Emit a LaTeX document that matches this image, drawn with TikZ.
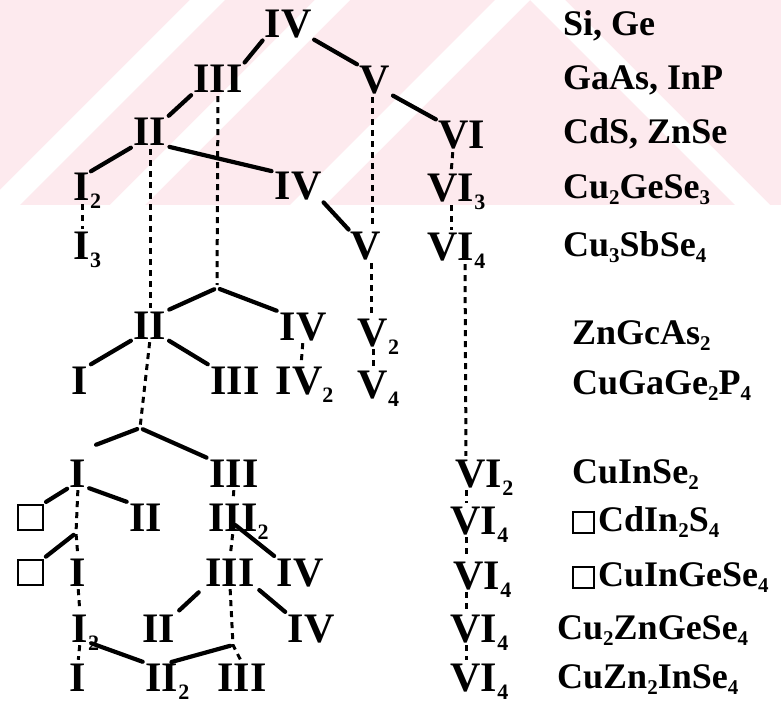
\documentclass[tikz,border=0pt]{standalone}
\usepackage{fontspec}
\setmainfont{Liberation Serif}
\definecolor{wm}{RGB}{253,234,238}
\newcommand\ns[1]{\rlap{\raisebox{-8pt}{\fontsize{22}{22}\selectfont #1}}}
\newcommand\fs[1]{\raisebox{-6pt}{\fontsize{21}{21}\selectfont #1}}
\newcommand\vacbox{{\setlength\fboxrule{2pt}\setlength\fboxsep{0pt}\fbox{\rule{0pt}{19pt}\hspace{19pt}}}\kern3pt}
\tikzset{
  num/.style={font=\fontsize{42}{42}\selectfont\bfseries, inner sep=0pt, text height=28pt, text depth=0pt, anchor=center},
  frm/.style={font=\fontsize{36}{36}\selectfont\bfseries, inner sep=0pt, text height=23pt, text depth=0pt, anchor=west},
  bond/.style={line width=4.2pt, line cap=round, shorten <=3pt, shorten >=3pt},
  dots/.style={line width=3pt, dash pattern=on 6pt off 5pt, shorten <=3pt, shorten >=3pt},
  vac/.style={draw, line width=2pt, minimum size=25pt, inner sep=0pt}
}
\begin{document}
\begin{tikzpicture}[x=1pt,y=-1pt]
\useasboundingbox (0,0) rectangle (781,708);
\fill[white] (0,0) rectangle (781,708);
% watermark band
\fill[wm] (0,0) rectangle (781,205);
\fill[white] (-15,205) -- (20,205) -- (225,0) -- (190,0) -- cycle;
\fill[white] (110,205) -- (145,205) -- (350,0) -- (315,0) -- cycle;
\fill[white] (290,205) -- (325,205) -- (530,0) -- (495,0) -- cycle;
\fill[white] (530,0) -- (565,0) -- (770,205) -- (735,205) -- cycle;
% tree nodes
\node[num] (a1) at (288,24) {IV};
\node[num] (b1) at (218,79) {III};
\node[num] (b2) at (375,80) {V};
\node[num] (c1) at (150,132) {II};
\node[num] (c2) at (462,135) {VI};
\node[num] (d1) at (82,187) {I\ns{2}};
\node[num] (d2) at (298,186) {IV};
\node[num] (d3) at (451,188) {VI\ns{3}};
\node[num] (e1) at (82,246) {I\ns{3}};
\node[num] (e2) at (366,246) {V};
\node[num] (e3) at (451,247) {VI\ns{4}};
\coordinate (j1) at (217,288);
\node[num] (f1) at (150,325) {II};
\node[num] (f2) at (303,326) {IV};
\node[num] (f3) at (373,332) {V\ns{2}};
\node[num] (g1) at (80,380) {I};
\node[num] (g2) at (235,380) {III};
\node[num] (g3) at (299,380) {IV\ns{2}};
\node[num] (g4) at (373,384) {V\ns{4}};
\coordinate (j2) at (140,428);
\node[num] (h1) at (78,473) {I};
\node[num] (h2) at (234,473) {III};
\node[num] (h3) at (479,473) {VI\ns{2}};
\node[vac] (i0) at (30,517) {};
\node[num] (i1) at (146,517) {II};
\node[num] (i2) at (233,517) {III\ns{2}};
\node[num] (i3) at (474,520) {VI\ns{4}};
\node[vac] (k0) at (30,572) {};
\node[num] (k1) at (78,572) {I};
\node[num] (k2) at (230,572) {III};
\node[num] (k3) at (300,572) {IV};
\node[num] (k4) at (477,575) {VI\ns{4}};
\node[num] (l1) at (80,628) {I\ns{2}};
\node[num] (l2) at (159,628) {II};
\node[num] (l3) at (311,628) {IV};
\node[num] (l4) at (474,628) {VI\ns{4}};
\node[num] (m1) at (78,677) {I};
\node[num] (m2) at (162,677) {II\ns{2}};
\node[num] (m3) at (242,677) {III};
\node[num] (m4) at (474,677) {VI\ns{4}};
\coordinate (j3) at (233,645);
\coordinate (j4) at (76,533);
% formulas
\node[frm] (r1) at (563,24) {Si, Ge};
\node[frm] (r2) at (563,78) {GaAs, InP};
\node[frm] (r3) at (563,132) {CdS, ZnSe};
\node[frm] (r4) at (563,187) {Cu\fs{2}GeSe\fs{3}};
\node[frm] (r5) at (563,245) {Cu\fs{3}SbSe\fs{4}};
\node[frm] (r6) at (572,333) {ZnGcAs\fs{2}};
\node[frm] (r7) at (572,383) {CuGaGe\fs{2}P\fs{4}};
\node[frm] (r8) at (572,472) {CuInSe\fs{2}};
\node[frm] (r9) at (572,520) {\vacbox CdIn\fs{2}S\fs{4}};
\node[frm] (r10) at (572,575) {\vacbox CuInGeSe\fs{4}};
\node[frm] (r11) at (557,628) {Cu\fs{2}ZnGeSe\fs{4}};
\node[frm] (r12) at (557,677) {CuZn\fs{2}InSe\fs{4}};
% solid bonds
\draw[bond] (a1.south west) -- (b1.north east);
\draw[bond] (a1.south east) -- (b2.north west);
\draw[bond] (b1.south west) -- (c1.north east);
\draw[bond] (b2.south east) -- (c2.north west);
\draw[bond] (c1.south west) -- ([xshift=-2pt]d1.north east);
\draw[bond] (c1.south east) -- (d2.north west);
\draw[bond] (d2.south east) -- (e2.north west);
\draw[bond] (j1) -- (f1.north east);
\draw[bond] (j1) -- (f2.north west);
\draw[bond] (f1.south west) -- (g1.north east);
\draw[bond] (f1.south east) -- (g2.north west);
\draw[bond] (j2) -- ([shift={(7,-13)}]h1.north east);
\draw[bond] (j2) -- (h2.north west);
\draw[bond] (h1.south west) -- (i0.north east);
\draw[bond] (h1.south east) -- (i1.north west);
\draw[bond] ([yshift=8]i2.south) -- (k3.north west);
\draw[bond] (k0.north east) -- (j4);
\draw[bond, shorten <=9pt, shorten >=5pt] (k2.south west) -- (l2.north east);
\draw[bond, shorten <=6pt] (k2.south east) -- (l3.north west);
\draw[bond] (l1.south east) -- (m2.north west);
\draw[bond] ([xshift=-10pt]m2.north east) -- (j3);
% dotted links
\draw[dots] (b1.south) -- (j1);
\draw[dots] (c1.south) -- (f1.north);
\draw[dots] (f1.south) -- (j2);
\draw[dots] ([xshift=-3pt]b2.south) -- ([xshift=6pt]e2.north);
\draw[dots] ([xshift=5pt]e2.south) -- ([xshift=-2pt]f3.north);
\draw[dots] (f3.south) -- (g4.north);
\draw[dots] (f2.south) -- ([xshift=2pt]g3.north);
\draw[dots] ([xshift=-9pt]c2.south) -- (d3.north);
\draw[dots] (d3.south) -- (e3.north);
\draw[dots] ([xshift=14pt]e3.south) -- ([xshift=-13pt]h3.north);
\draw[dots] ([xshift=-13pt]h3.south) -- ([xshift=-8pt]i3.north);
\draw[dots] ([xshift=-8pt]i3.south) -- ([xshift=-11pt]k4.north);
\draw[dots] ([xshift=-11pt]k4.south) -- ([xshift=-8pt]l4.north);
\draw[dots] ([xshift=-8pt]l4.south) -- ([xshift=-8pt]m4.north);
\draw[dots] (d1.south) -- (e1.north);
\draw[dots] (h1.south) -- (j4) -- (k1.north);
\draw[dots] (k1.south) -- (l1.north);
\draw[dots] (l1.south) -- (m1.north);
\draw[dots] (h2.south) -- (i2.north);
\draw[dots] (i2.south) -- (k2.north);
\draw[dots] (k2.south) -- (j3) -- (m3.north);
\end{tikzpicture}
\end{document}
